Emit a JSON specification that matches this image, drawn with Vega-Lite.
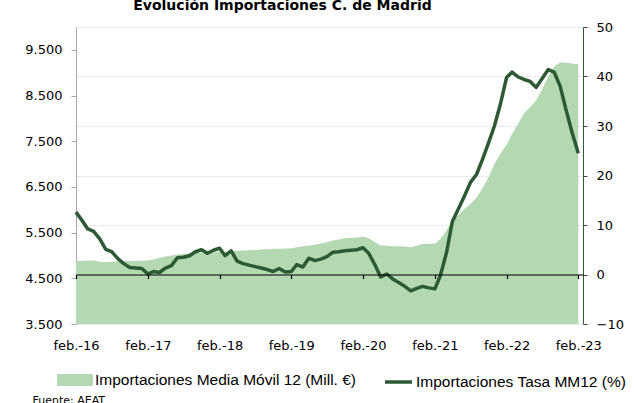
{
  "$schema": "https://vega.github.io/schema/vega-lite/v6.json",
  "width": 507,
  "height": 297,
  "autosize": {"type": "none"},
  "padding": {"left": 76, "top": 27, "right": 51, "bottom": 79},
  "background": "white",
  "title": {"text": "Evolución Importaciones C. de Madrid", "font": "DejaVu Sans", "fontSize": 14, "fontWeight": "bold", "color": "#000000", "anchor": "middle", "frame": "group", "baseline": "alphabetic", "offset": -3, "dx": -47},
  "config": {"view": {"stroke": null}},
  "data": {"values": [
    {"fecha": "2016-02-01", "media": 4871, "tasa": 12.6},
    {"fecha": "2016-03-01", "media": 4880, "tasa": 11.0},
    {"fecha": "2016-04-01", "media": 4888, "tasa": 9.2},
    {"fecha": "2016-05-01", "media": 4890, "tasa": 8.7},
    {"fecha": "2016-06-01", "media": 4860, "tasa": 7.2},
    {"fecha": "2016-07-01", "media": 4850, "tasa": 5.1},
    {"fecha": "2016-08-01", "media": 4865, "tasa": 4.6},
    {"fecha": "2016-09-01", "media": 4874, "tasa": 3.2},
    {"fecha": "2016-10-01", "media": 4878, "tasa": 2.2},
    {"fecha": "2016-11-01", "media": 4881, "tasa": 1.4},
    {"fecha": "2016-12-01", "media": 4883, "tasa": 1.3},
    {"fecha": "2017-01-01", "media": 4885, "tasa": 1.2},
    {"fecha": "2017-02-01", "media": 4889, "tasa": 0.1},
    {"fecha": "2017-03-01", "media": 4910, "tasa": 0.6},
    {"fecha": "2017-04-01", "media": 4945, "tasa": 0.4},
    {"fecha": "2017-05-01", "media": 4976, "tasa": 1.3},
    {"fecha": "2017-06-01", "media": 5000, "tasa": 1.8},
    {"fecha": "2017-07-01", "media": 5020, "tasa": 3.4},
    {"fecha": "2017-08-01", "media": 5033, "tasa": 3.5},
    {"fecha": "2017-09-01", "media": 5047, "tasa": 3.8},
    {"fecha": "2017-10-01", "media": 5057, "tasa": 4.6},
    {"fecha": "2017-11-01", "media": 5061, "tasa": 5.0},
    {"fecha": "2017-12-01", "media": 5066, "tasa": 4.3},
    {"fecha": "2018-01-01", "media": 5071, "tasa": 4.9},
    {"fecha": "2018-02-01", "media": 5077, "tasa": 5.3},
    {"fecha": "2018-03-01", "media": 5082, "tasa": 3.8},
    {"fecha": "2018-04-01", "media": 5090, "tasa": 4.8},
    {"fecha": "2018-05-01", "media": 5099, "tasa": 2.7},
    {"fecha": "2018-06-01", "media": 5107, "tasa": 2.2},
    {"fecha": "2018-07-01", "media": 5115, "tasa": 1.9},
    {"fecha": "2018-08-01", "media": 5122, "tasa": 1.6},
    {"fecha": "2018-09-01", "media": 5128, "tasa": 1.3},
    {"fecha": "2018-10-01", "media": 5135, "tasa": 1.0},
    {"fecha": "2018-11-01", "media": 5140, "tasa": 0.6},
    {"fecha": "2018-12-01", "media": 5146, "tasa": 1.2},
    {"fecha": "2019-01-01", "media": 5151, "tasa": 0.5},
    {"fecha": "2019-02-01", "media": 5160, "tasa": 0.6},
    {"fecha": "2019-03-01", "media": 5182, "tasa": 2.0},
    {"fecha": "2019-04-01", "media": 5203, "tasa": 1.5},
    {"fecha": "2019-05-01", "media": 5220, "tasa": 3.3},
    {"fecha": "2019-06-01", "media": 5234, "tasa": 2.8},
    {"fecha": "2019-07-01", "media": 5260, "tasa": 3.1},
    {"fecha": "2019-08-01", "media": 5289, "tasa": 3.6},
    {"fecha": "2019-09-01", "media": 5325, "tasa": 4.5},
    {"fecha": "2019-10-01", "media": 5352, "tasa": 4.6},
    {"fecha": "2019-11-01", "media": 5374, "tasa": 4.8},
    {"fecha": "2019-12-01", "media": 5385, "tasa": 4.9},
    {"fecha": "2020-01-01", "media": 5395, "tasa": 5.0},
    {"fecha": "2020-02-01", "media": 5417, "tasa": 5.4},
    {"fecha": "2020-03-01", "media": 5376, "tasa": 4.3},
    {"fecha": "2020-04-01", "media": 5295, "tasa": 2.0},
    {"fecha": "2020-05-01", "media": 5219, "tasa": -0.5},
    {"fecha": "2020-06-01", "media": 5210, "tasa": 0.1},
    {"fecha": "2020-07-01", "media": 5200, "tasa": -0.9},
    {"fecha": "2020-08-01", "media": 5199, "tasa": -1.6},
    {"fecha": "2020-09-01", "media": 5195, "tasa": -2.4},
    {"fecha": "2020-10-01", "media": 5180, "tasa": -3.3},
    {"fecha": "2020-11-01", "media": 5215, "tasa": -2.8},
    {"fecha": "2020-12-01", "media": 5250, "tasa": -2.4},
    {"fecha": "2021-01-01", "media": 5255, "tasa": -2.7},
    {"fecha": "2021-02-01", "media": 5259, "tasa": -2.9},
    {"fecha": "2021-03-01", "media": 5360, "tasa": -0.2},
    {"fecha": "2021-04-01", "media": 5545, "tasa": 4.4},
    {"fecha": "2021-05-01", "media": 5780, "tasa": 10.7},
    {"fecha": "2021-06-01", "media": 5885, "tasa": 13.3},
    {"fecha": "2021-07-01", "media": 6010, "tasa": 15.8},
    {"fecha": "2021-08-01", "media": 6128, "tasa": 18.6},
    {"fecha": "2021-09-01", "media": 6265, "tasa": 20.2},
    {"fecha": "2021-10-01", "media": 6470, "tasa": 23.2},
    {"fecha": "2021-11-01", "media": 6710, "tasa": 26.6},
    {"fecha": "2021-12-01", "media": 7000, "tasa": 30.0},
    {"fecha": "2022-01-01", "media": 7230, "tasa": 34.5},
    {"fecha": "2022-02-01", "media": 7430, "tasa": 39.8},
    {"fecha": "2022-03-01", "media": 7660, "tasa": 40.9},
    {"fecha": "2022-04-01", "media": 7890, "tasa": 39.9},
    {"fecha": "2022-05-01", "media": 8110, "tasa": 39.4},
    {"fecha": "2022-06-01", "media": 8250, "tasa": 39.0},
    {"fecha": "2022-07-01", "media": 8390, "tasa": 37.8},
    {"fecha": "2022-08-01", "media": 8640, "tasa": 39.6},
    {"fecha": "2022-09-01", "media": 8915, "tasa": 41.4},
    {"fecha": "2022-10-01", "media": 9130, "tasa": 40.9},
    {"fecha": "2022-11-01", "media": 9228, "tasa": 38.0},
    {"fecha": "2022-12-01", "media": 9220, "tasa": 33.2},
    {"fecha": "2023-01-01", "media": 9200, "tasa": 28.6},
    {"fecha": "2023-02-01", "media": 9179, "tasa": 24.5}
  ]},
  "encoding": {
    "x": {
      "field": "fecha", "type": "temporal",
      "scale": {"type": "utc", "domain": [1454284800000, 1677283200000]},
      "axis": {
        "orient": "bottom", "offset": -49.5,
        "values": [1454284800000, 1485907200000, 1517443200000, 1548979200000, 1580515200000, 1612137600000, 1643673600000, 1675209600000],
        "labelExpr": "'feb.-' + utcFormat(datum.value, '%y')",
        "domainColor": "#000000", "domainWidth": 1.2,
        "tickColor": "#000000", "tickSize": 4, "tickWidth": 1.2,
        "grid": false,
        "labelFont": "DejaVu Sans", "labelFontSize": 13, "labelColor": "#000000",
        "labelPadding": 61, "labelFlush": false, "labelOverlap": false,
        "title": "Fuente: AEAT", "titleX": -44, "titleY": 120, "titleAlign": "left", "titleBaseline": "top",
        "titleFont": "DejaVu Sans", "titleFontSize": 11, "titleFontWeight": "normal", "titleColor": "#000000",
        "zindex": 1
      }
    }
  },
  "layer": [
    {
      "mark": {"type": "area", "fillOpacity": 1, "opacity": 1},
      "encoding": {
        "y": {
          "field": "media", "type": "quantitative",
          "scale": {"domain": [3500, 10000], "nice": false, "zero": false},
          "axis": {
            "orient": "left", "values": [3500, 4500, 5500, 6500, 7500, 8500, 9500],
            "labelExpr": "replace(format(datum.value, ','), ',', '.')",
            "domainColor": "#a6a6a6", "tickColor": "#a6a6a6", "tickSize": 5,
            "grid": false, "labelFont": "DejaVu Sans", "labelFontSize": 13, "labelColor": "#000000",
            "labelPadding": 9, "title": null
          }
        },
        "y2": {"datum": 3500},
        "fill": {
          "datum": "Importaciones Media Móvil 12 (Mill. €)", "type": "nominal",
          "scale": {"range": ["#b4d8b1"]},
          "legend": {
            "orient": "none", "legendX": -19, "legendY": 335, "direction": "horizontal", "title": null,
            "padding": 0, "symbolSize": 1296, "symbolType": "M-1,-0.333H1V0.333H-1Z", "symbolStrokeWidth": 0,
            "labelOffset": 2, "labelLimit": 0,
            "labelFont": "Liberation Sans", "labelFontSize": 15.5, "labelColor": "#000000"
          }
        }
      }
    },
    {
      "mark": {"type": "line", "strokeWidth": 3.5, "strokeJoin": "round"},
      "encoding": {
        "y": {
          "field": "tasa", "type": "quantitative",
          "scale": {"domain": [-10, 50], "nice": false, "zero": false},
          "axis": {
            "orient": "right", "values": [-10, 0, 10, 20, 30, 40, 50],
            "domainColor": "#2d5a34", "tickColor": "#2d5a34", "tickSize": 4,
            "grid": true, "gridColor": "#d9d9d9", "gridDash": [2, 2], "gridWidth": 1,
            "labelFont": "DejaVu Sans", "labelFontSize": 13, "labelColor": "#000000",
            "labelPadding": 9, "title": null
          }
        },
        "stroke": {
          "datum": "Importaciones Tasa MM12 (%)", "type": "nominal",
          "scale": {"range": ["#2d5a34"]},
          "legend": {
            "orient": "none", "legendX": 298, "legendY": 335, "direction": "horizontal", "title": null,
            "padding": 0, "symbolSize": 1296, "symbolType": "M-0.5,0H1", "symbolStrokeWidth": 3.5,
            "labelOffset": 2, "labelLimit": 0,
            "labelFont": "Liberation Sans", "labelFontSize": 15.5, "labelColor": "#000000"
          }
        }
      }
    }
  ],
  "resolve": {"scale": {"y": "independent"}}
}
